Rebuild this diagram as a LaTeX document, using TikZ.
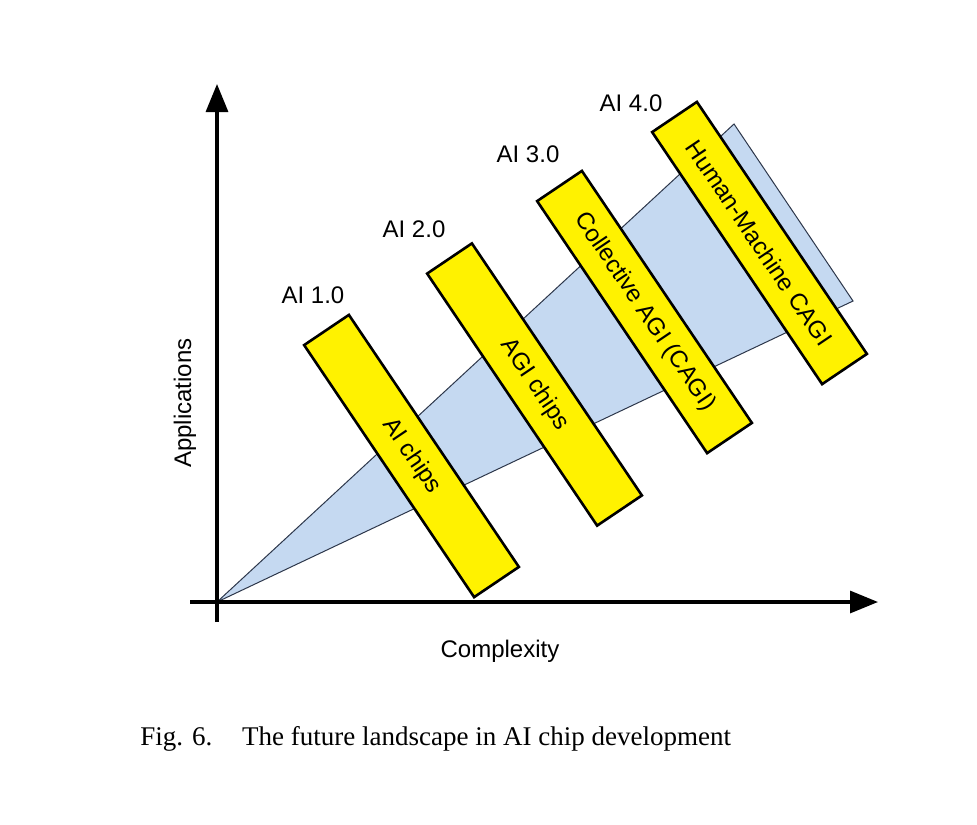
\documentclass[tikz,border=0pt]{standalone}
\usepackage{fontspec}
\setmainfont{Liberation Serif}
\newfontfamily\arialfont{Liberation Sans}
\usepackage{xcolor}
\usepackage{tikz}
\usetikzlibrary{positioning,arrows.meta}

\definecolor{conefill}{RGB}{197,217,241}
\definecolor{coneline}{RGB}{45,55,75}

\begin{document}
\begin{tikzpicture}[
  x=0.5pt, y=-0.5pt,
  font=\arialfont\fontsize{12}{14}\selectfont,
  axis/.style={line width=1.6pt, -{Triangle[length=14pt, width=11pt]}},
  cone/.style={fill=conefill, draw=coneline, line width=0.5pt, line join=miter},
  chip/.style={draw, line width=1.3pt, fill=yellow, rotate=-56, minimum width=152pt, minimum height=27pt, inner sep=0pt},
  era/.style={inner sep=1pt},
  axlabel/.style={inner sep=1pt}]

\useasboundingbox (0,0) rectangle (977,824);

% axes end points
\coordinate (O) at (217,602);
\coordinate (xstart) at (190,602);
\coordinate (xend) at (878,602);
\coordinate (ystart) at (217,622);
\coordinate (yend) at (217,84);

% growth cone
\coordinate (ctop) at (734,124);
\coordinate (cright) at (853,301);
\fill[cone] (O) -- (ctop) -- (cright) -- cycle;

% generations
\node[chip] (chip1) at (411.5,456) {AI chips};
\node[chip] (chip2) at (534.5,384.5) {AGI chips};
\node[chip] (chip3) at (644.5,312) {Collective AGI (CAGI)};
\node[chip] (chip4) at (759.5,243) {Human-Machine CAGI};

\node[era] (ai1) at (313,295) {AI 1.0};
\node[era] (ai2) at (414,229) {AI 2.0};
\node[era] (ai3) at (528,154) {AI 3.0};
\node[era] (ai4) at (631,103) {AI 4.0};

\draw[axis] (xstart) -- (xend);
\draw[axis] (ystart) -- (yend);

\node[axlabel] (xlab) at (500,651) {Complexity};
\node[axlabel, rotate=90] (ylab) at (185,403) {Applications};

\node[anchor=base west, inner sep=0pt, font=\fontsize{13.5}{16}\selectfont] (caption) at (140,745) {Fig. 6.\hspace{1.1em}The future landscape in AI chip development};
\end{tikzpicture}
\end{document}
